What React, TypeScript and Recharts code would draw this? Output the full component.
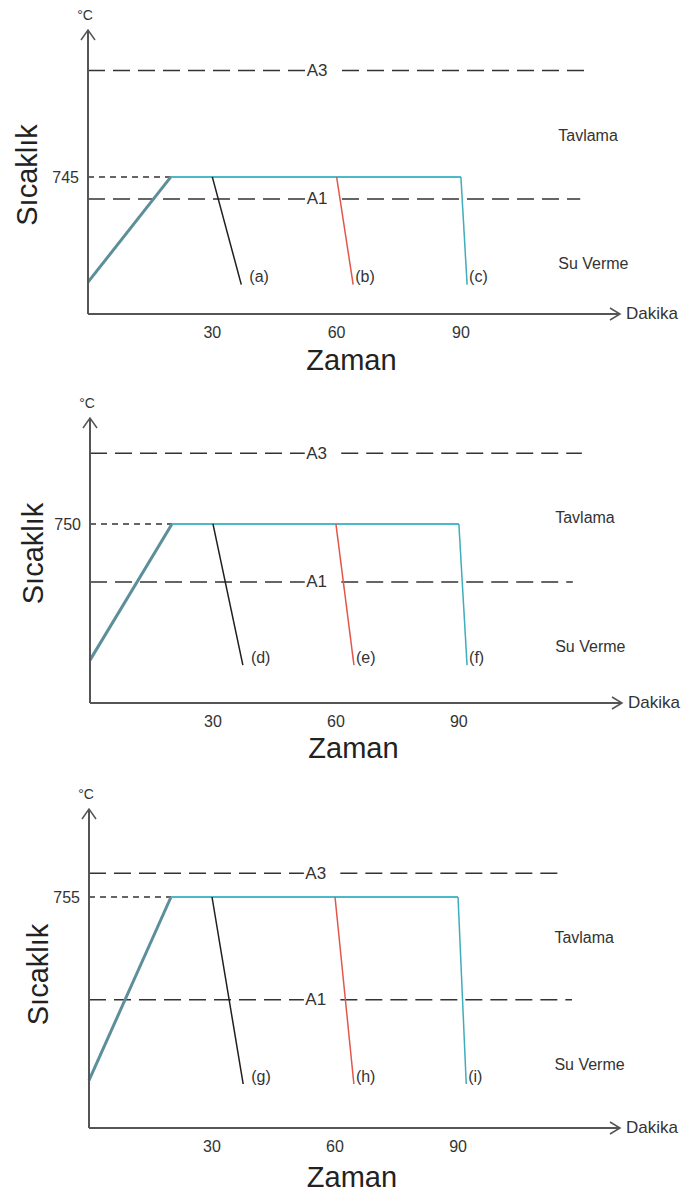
import React from 'react';
import { LineChart, Line, XAxis, YAxis, ReferenceLine, ReferenceDot } from 'recharts';

// minutes
const timeTicks = [30, 60, 90];
const rampEndTime = 20;
const holdEndTime = 90;
const quenchStartTimes = [30, 60, 90];

// one entry per diagram, top to bottom (°C)
const holdTemps = [745, 750, 755];
const a1Temps = [727, 727, 727];
const a3Temps = [832, 778, 761.5];
const startTemps = [659, 696, 705];
const quenchEndTemps = [657, 694, 704];
const quenchEndTimes = [
  [37, 64, 91.5],
  [37.3, 64.4, 92],
  [37.6, 64.6, 92],
];
const a3EndTimes = [120, 120, 114.4];
const a1EndTimes = [118.8, 117.8, 117.8];
const tempRanges = [
  [633, 865],
  [679, 792],
  [692, 779],
];
const curveNames = [
  ['(a)', '(b)', '(c)'],
  ['(d)', '(e)', '(f)'],
  ['(g)', '(h)', '(i)'],
];

const FONT = '"Liberation Sans", Arial, sans-serif';
const INK = '#333';
const AXIS = '#555';
const X_AXIS_H = 40;
const quenchColors = ['#1f1f1f', '#e2574c', '#3fadbd'];
const labelDx = [8, 2, 2];
const gap = [52.4, 61.3];
const gapMid = 55.3;
const noteTime = 113.5;

const layouts = [
  { top: 0, height: 390, plotTop: 30, plotBottom: 314, left: 88, right: 620, xMax: 128.4, yLabelX: 27, yLabelDy: 3, zamanDy: 46, tav: 779, su: 674.6 },
  { top: 390, height: 390, plotTop: 418, plotBottom: 703, left: 90, right: 622, xMax: 129.8, yLabelX: 33, yLabelDy: -7, zamanDy: 45, tav: 752.4, su: 701.6 },
  { top: 780, height: 414, plotTop: 809, plotBottom: 1128, left: 89, right: 620, xMax: 129.5, yLabelX: 38, yLabelDy: 6, zamanDy: 49, tav: 743.9, su: 709.3 },
];

const UpArrow = (p: any) => (
  <g>
    <path d={`M${p.cx - 7},${p.cy + 10} L${p.cx},${p.cy} L${p.cx + 7},${p.cy + 10}`} fill="none" stroke={AXIS} strokeWidth={1.5} />
    <text x={p.cx - 3} y={p.cy - 15} textAnchor="middle" dominantBaseline="central" fontSize={14} fill={INK}>°C</text>
  </g>
);

const RightArrow = (p: any) => (
  <g>
    <path d={`M${p.cx - 10},${p.cy - 6} L${p.cx},${p.cy} L${p.cx - 10},${p.cy + 6}`} fill="none" stroke={AXIS} strokeWidth={1.5} />
    <text x={p.cx + 6} y={p.cy - 1} dominantBaseline="central" fontSize={17} fill={INK}>Dakika</text>
  </g>
);

const textAt = (value: string, dx = 0, dy = 0, anchor = 'start', size = 16) => (p: any) => (
  <text x={p.cx + dx} y={p.cy + dy} textAnchor={anchor} dominantBaseline="central" fontSize={size} fill={INK}>
    {value}
  </text>
);

function Panel({ i }: { i: number }) {
  const L = layouts[i];
  const hold = holdTemps[i];
  const [yMin, yMax] = tempRanges[i];
  const ramp = [{ t: 0, temp: startTemps[i] }, { t: rampEndTime, temp: hold }];
  const plateau = [{ t: rampEndTime, temp: hold }, { t: holdEndTime, temp: hold }];
  const quenches = quenchStartTimes.map((t0, k) => [
    { t: t0, temp: hold },
    { t: quenchEndTimes[i][k], temp: quenchEndTemps[i] },
  ]);
  const margin = {
    top: L.plotTop - L.top,
    right: 684 - L.right,
    bottom: L.height - (L.plotBottom - L.top) - X_AXIS_H,
    left: 0,
  };

  const dashed = (temp: number, end: number) => [
    <ReferenceLine key="l" segment={[{ x: 0, y: temp }, { x: gap[0], y: temp }]} stroke={INK} strokeWidth={1.5} strokeDasharray="17 8" ifOverflow="visible" />,
    <ReferenceLine key="r" segment={[{ x: gap[1], y: temp }, { x: end, y: temp }]} stroke={INK} strokeWidth={1.5} strokeDasharray="17 8" ifOverflow="visible" />,
  ];

  return (
    <div style={{ position: 'absolute', left: 0, top: L.top }}>
      <LineChart width={684} height={L.height} margin={margin}>
        <XAxis
          type="number"
          dataKey="t"
          domain={[0, L.xMax]}
          ticks={timeTicks}
          interval={0}
          height={X_AXIS_H}
          tickLine={false}
          tickSize={6}
          tickMargin={7}
          tick={{ fill: INK, fontSize: 16 }}
          axisLine={{ stroke: AXIS, strokeWidth: 2 }}
          label={(p: any) => (
            <text x={p.viewBox.x + p.viewBox.width / 2 - 2.5} y={p.viewBox.y + L.zamanDy} textAnchor="middle" dominantBaseline="central" fontSize={29} fill="#222">
              Zaman
            </text>
          )}
        />
        <YAxis
          type="number"
          dataKey="temp"
          domain={[yMin, yMax]}
          ticks={[hold]}
          interval={0}
          width={L.left}
          tickLine={false}
          tickSize={6}
          tickMargin={3}
          tick={{ fill: INK, fontSize: 16 }}
          axisLine={{ stroke: AXIS, strokeWidth: 2 }}
          label={(p: any) => {
            const cy = p.viewBox.y + p.viewBox.height / 2 + L.yLabelDy;
            return (
              <text x={L.yLabelX} y={cy} transform={`rotate(-90, ${L.yLabelX}, ${cy})`} textAnchor="middle" dominantBaseline="central" fontSize={29} fill="#222">
                Sıcaklık
              </text>
            );
          }}
        />

        {dashed(a3Temps[i], a3EndTimes[i])}
        {dashed(a1Temps[i], a1EndTimes[i])}
        <ReferenceLine segment={[{ x: 0, y: hold }, { x: rampEndTime, y: hold }]} stroke={INK} strokeWidth={1.5} strokeDasharray="6 5" ifOverflow="visible" />

        <Line data={ramp} dataKey="temp" stroke="#5d8f9a" strokeWidth={3} dot={false} activeDot={false} isAnimationActive={false} />
        <Line data={plateau} dataKey="temp" stroke="#4bb9c9" strokeWidth={2} dot={false} activeDot={false} isAnimationActive={false} />
        {quenches.map((d, k) => (
          <Line key={k} data={d} dataKey="temp" stroke={quenchColors[k]} strokeWidth={1.5} dot={false} activeDot={false} isAnimationActive={false} />
        ))}

        <ReferenceDot x={gapMid} y={a3Temps[i]} r={0} ifOverflow="visible" shape={textAt('A3', 0, 0, 'middle', 17)} />
        <ReferenceDot x={gapMid} y={a1Temps[i]} r={0} ifOverflow="visible" shape={textAt('A1', 0, 0, 'middle', 17)} />
        {curveNames[i].map((name, k) => (
          <ReferenceDot key={name} x={quenchEndTimes[i][k]} y={quenchEndTemps[i]} r={0} ifOverflow="visible" shape={textAt(name, labelDx[k], -8)} />
        ))}
        <ReferenceDot x={noteTime} y={L.tav} r={0} ifOverflow="visible" shape={textAt('Tavlama')} />
        <ReferenceDot x={noteTime} y={L.su} r={0} ifOverflow="visible" shape={textAt('Su Verme')} />

        <ReferenceDot x={0} y={yMax} r={0} ifOverflow="visible" shape={UpArrow} />
        <ReferenceDot x={L.xMax} y={yMin} r={0} ifOverflow="visible" shape={RightArrow} />
      </LineChart>
    </div>
  );
}

export default function App() {
  return (
    <div style={{ position: 'absolute', left: 0, top: 0, width: 684, height: 1194, background: '#fff', fontFamily: FONT }}>
      {[0, 1, 2].map((i) => (
        <Panel key={i} i={i} />
      ))}
    </div>
  );
}
